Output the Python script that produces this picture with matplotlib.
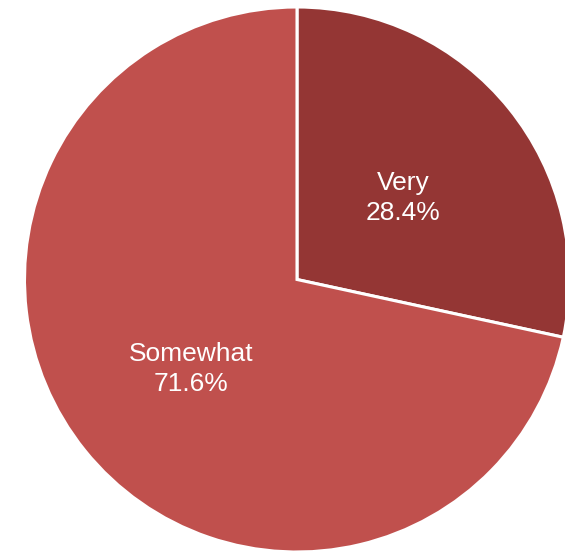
import matplotlib
matplotlib.use("Agg")
import matplotlib.pyplot as plt
import numpy as np

categories = ["Very", "Somewhat"]
values = [28.4, 71.6]
colors = ["#943634", "#C0504D"]

plt.rcParams['font.family'] = ['Liberation Sans', 'DejaVu Sans']

fig = plt.figure(figsize=(5.65, 5.54), dpi=100)
ax = fig.add_axes([0, 0, 1, 1])
ax.set_axis_off()

R = 272.5
cx, cy = 297, 554 - 279.5
wedges, _ = ax.pie(values, colors=colors, startangle=90, counterclock=False,
                   radius=1.0, center=(0, 0),
                   wedgeprops=dict(edgecolor="white", linewidth=2.2))
for w, cat, v in zip(wedges, categories, values):
    ang = np.deg2rad((w.theta1 + w.theta2) / 2)
    x, y = 0.5 * np.cos(ang), 0.5 * np.sin(ang) - 4 / R
    ax.text(x, y, f"{cat}\n{v:.1f}%", ha="center", va="center",
            color="white", fontsize=19, linespacing=1.32)

ax.set_xlim(-cx / R, (565 - cx) / R)
ax.set_ylim(-cy / R, (554 - cy) / R)
ax.set_aspect("auto")
fig.savefig("out.png", dpi=100, facecolor="white")
